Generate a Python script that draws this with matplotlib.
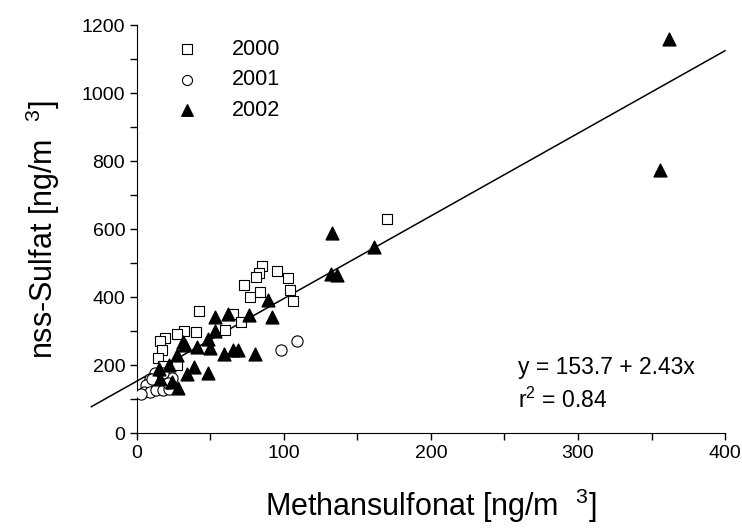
import numpy as np
import matplotlib
matplotlib.use("Agg")
import matplotlib.pyplot as plt
from matplotlib.ticker import MultipleLocator

plt.rcParams['font.family'] = ['Liberation Sans', 'DejaVu Sans']
plt.rcParams['mathtext.fontset'] = 'custom'
plt.rcParams['mathtext.rm'] = 'Liberation Sans'
plt.rcParams['mathtext.it'] = 'Liberation Sans'

# 2000 (open squares)
msa_2000 = [85, 83, 81, 95, 103, 73, 77, 84, 104, 106, 42, 65, 71, 60, 40, 32,
            27, 19, 16, 17, 14, 27, 18, 170]
sulf_2000 = [493, 473, 460, 478, 457, 436, 402, 415, 421, 388, 361, 351, 327,
             305, 298, 302, 293, 281, 271, 246, 222, 200, 198, 632]

# 2001 (open circles)
msa_2001 = [12, 9, 6, 5, 9, 13, 18, 22, 24, 21, 14, 18, 3, 10, 98, 109]
sulf_2001 = [176, 159, 142, 122, 122, 127, 127, 129, 162, 147, 162, 176, 117,
             161, 246, 273]

# 2002 (filled triangles)
msa_2002 = [53, 62, 76, 89, 92, 53, 48, 50, 41, 33, 31, 27, 22, 15, 16, 24,
            28, 39, 34, 48, 59, 65, 69, 80, 132, 136, 133, 161, 362, 356]
sulf_2002 = [341, 351, 348, 392, 343, 300, 278, 252, 254, 259, 268, 229, 200,
             190, 161, 151, 132, 195, 174, 178, 234, 244, 246, 234, 470, 466,
             588, 549, 1160, 774]

# regression
intercept = 153.7
slope = 2.43
fit_x = np.array([-31, 400])

fig = plt.figure(figsize=(7.42, 5.31), dpi=100)
ax = fig.add_axes([0.1846, 0.184, 0.7925, 0.768])

ax.plot(fit_x, intercept + slope * fit_x, color='black', lw=1.1, clip_on=False, zorder=2)

ax.scatter(msa_2000, sulf_2000, marker='s', s=55, facecolors='white',
           edgecolors='black', linewidths=0.8, label='2000', zorder=3)
ax.scatter(msa_2001, sulf_2001, marker='o', s=65, facecolors='white',
           edgecolors='black', linewidths=0.8, label='2001', zorder=3)
ax.scatter(msa_2002, sulf_2002, marker='^', s=85, color='black',
           label='2002', zorder=4)

ax.set_xlim(0, 400)
ax.set_ylim(0, 1200)
ax.xaxis.set_major_locator(MultipleLocator(100))
ax.xaxis.set_minor_locator(MultipleLocator(50))
ax.yaxis.set_major_locator(MultipleLocator(200))
ax.yaxis.set_minor_locator(MultipleLocator(100))
ax.tick_params(which='both', direction='out', width=1, labelsize=14)
ax.tick_params(which='major', length=5)
ax.tick_params(which='minor', length=5)
ax.spines['top'].set_visible(False)
ax.spines['right'].set_visible(False)

ax.set_xlabel(r'Methansulfonat [ng/m  $^{3}$]', fontsize=22, labelpad=18)
ax.set_ylabel(r'nss-Sulfat [ng/m  $^{3}$]', fontsize=22, labelpad=14)

ax.text(259, 194, 'y = 153.7 + 2.43x', fontsize=16.5, va='center')
ax.text(259, 98, r'r$^{2}$ = 0.84', fontsize=16.5, va='center')

leg = ax.legend(loc='upper left', bbox_to_anchor=(0.015, 1.015), frameon=False,
                fontsize=15.5, handletextpad=1.1, labelspacing=0.45,
                markerscale=0.9)

fig.savefig('out.png', dpi=100)
